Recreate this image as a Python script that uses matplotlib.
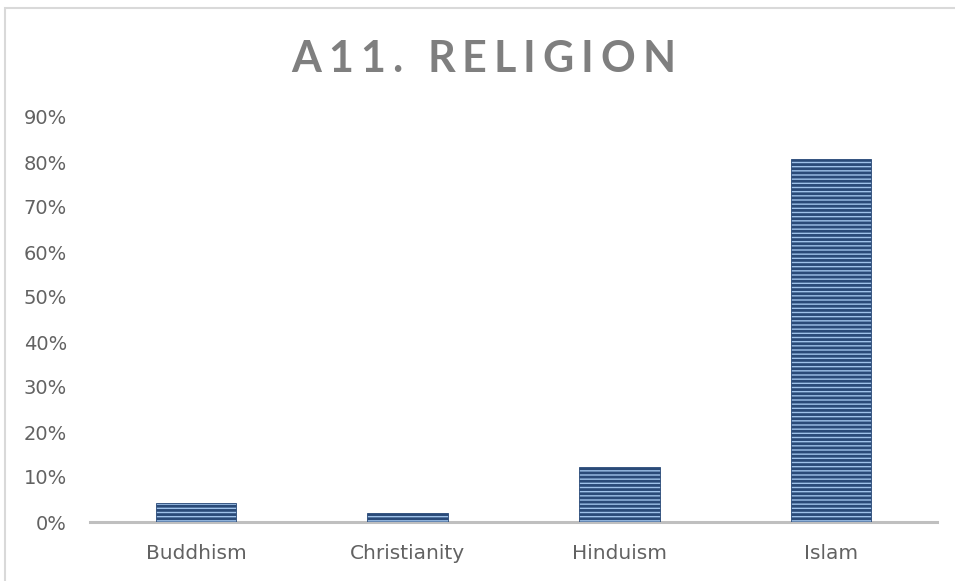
import matplotlib.pyplot as plt
from matplotlib.patches import Rectangle
from matplotlib.ticker import FuncFormatter

religions = ['Buddhism', 'Christianity', 'Hinduism', 'Islam']
shares = [0.042, 0.021, 0.122, 0.807]
y_ticks = [0.0, 0.1, 0.2, 0.3, 0.4, 0.5, 0.6, 0.7, 0.8, 0.9]
title = 'A11. RELIGION'

plt.rcParams['font.family'] = ['DejaVu Sans']
plt.rcParams['hatch.linewidth'] = 2.0
plt.rcParams['hatch.color'] = '#1b3660'

fig = plt.figure(figsize=(9.55, 5.81), dpi=100)

# chart border (light gray frame, clipped at right/bottom like the source)
fig.patches.append(Rectangle((5 / 955, -0.1), 1.2, 1.1 - 8 / 581,
                             transform=fig.transFigure, fill=False,
                             edgecolor='#d9d9d9', linewidth=1.5))

ax = fig.add_axes([90 / 955, 1 - 522 / 581, 847 / 955, 405 / 581])

x = range(len(religions))
ax.bar(x, shares, width=0.38, color='#9fc2ea', edgecolor='#2a4a78',
       linewidth=0.6, hatch='----', zorder=3)

ax.set_xlim(-0.5, 3.5)
ax.set_ylim(0, 0.9)
ax.set_yticks(y_ticks)
ax.yaxis.set_major_formatter(FuncFormatter(lambda v, p: '%d%%' % round(v * 100)))
ax.set_xticks(list(x))
ax.set_xticklabels(religions)

for side in ['top', 'right', 'left']:
    ax.spines[side].set_visible(False)
ax.spines['bottom'].set_color('#bfbfbf')
ax.spines['bottom'].set_linewidth(2.2)
ax.tick_params(axis='both', length=0, labelsize=14, colors='#626262')
ax.tick_params(axis='x', labelsize=14.5)
ax.tick_params(axis='y', pad=16.5)
ax.tick_params(axis='x', pad=16)

# letter-spaced title, placed char by char
renderer = fig.canvas.get_renderer()
tracking = 7  # px between letters
pieces = []
total = 0
for ch in title:
    t = fig.text(0, 0, ch, fontsize=31, fontweight='bold', family='Lato',
                 color='#7f7f7f', va='center', ha='left')
    w = t.get_window_extent(renderer).width
    pieces.append((t, w))
    total += w + tracking
total -= tracking
cx = 483.5
xpos = cx - total / 2
for t, w in pieces:
    t.set_position((xpos / 955, 1 - 59 / 581))
    xpos += w + tracking

fig.savefig('out.png', dpi=100)
